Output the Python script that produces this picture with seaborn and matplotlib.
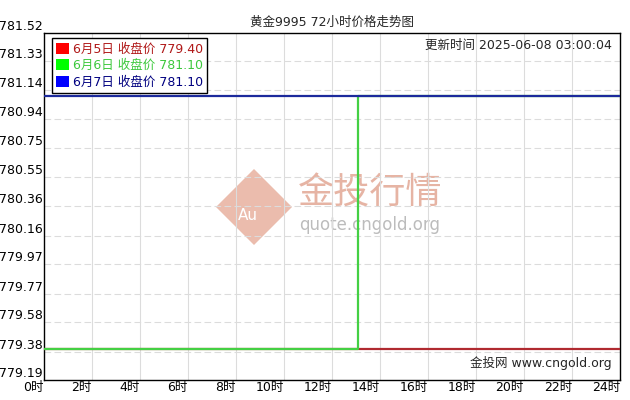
import matplotlib
matplotlib.use("Agg")
import matplotlib.pyplot as plt
from matplotlib.patches import Patch, RegularPolygon
import seaborn as sns
import pandas as pd

# 三天的价格走势 (小时, 价格)
hours_0605 = [0, 24]
price_0605 = [779.40, 779.40]
hours_0606 = [0, 13.1, 13.1, 24]
price_0606 = [779.40, 779.40, 781.10, 781.10]
hours_0607 = [0, 24]
price_0607 = [781.10, 781.10]

series_names = ["6月5日 收盘价 779.40", "6月6日 收盘价 781.10", "6月7日 收盘价 781.10"]
line_colors = ["#b02a30", "#44d044", "#1c2a9c"]
swatch_colors = ["#ff0000", "#00ff00", "#0000ff"]
text_colors = ["#b01818", "#3cc83c", "#000080"]

y_ticks = [779.19, 779.38, 779.58, 779.77, 779.97, 780.16, 780.36,
           780.55, 780.75, 780.94, 781.14, 781.33, 781.52]
x_ticks = list(range(0, 25, 2))
x_labels = [f"{h}时" for h in x_ticks]

sns.set_theme(style="white")
plt.rcParams['font.family'] = ['DejaVu Sans', 'Noto Sans CJK SC']

fig, ax = plt.subplots(figsize=(6.3, 4.0), dpi=100)
fig.subplots_adjust(left=44/630, right=620/630, top=1-33/400, bottom=1-380/400)

# 水印
logo = RegularPolygon((2.54, 1.93), numVertices=4, radius=0.38, orientation=0,
                      transform=fig.dpi_scale_trans, facecolor="#ebbcad",
                      edgecolor="none", zorder=0.5)
ax.add_patch(logo)
ax.text(2.48, 1.85, "Au", transform=fig.dpi_scale_trans, color="white",
        fontsize=11, ha="center", va="center", zorder=0.6)
ax.text(0.566, 0.536, "金投行情", transform=ax.transAxes, color="#e6b4a4",
        fontsize=26, ha="center", va="center", family=['Noto Sans CJK SC'], zorder=0.6)
ax.text(0.566, 0.447, "quote.cngold.org", transform=ax.transAxes, color="#bcbcbc",
        fontsize=12, ha="center", va="center", zorder=0.6)

df = pd.concat([
    pd.DataFrame({"hour": hours_0605, "price": price_0605, "day": series_names[0]}),
    pd.DataFrame({"hour": hours_0606, "price": price_0606, "day": series_names[1]}),
    pd.DataFrame({"hour": hours_0607, "price": price_0607, "day": series_names[2]}),
])
for name, color in zip(series_names, line_colors):
    sub = df[df["day"] == name]
    sns.lineplot(x=sub["hour"], y=sub["price"], ax=ax, color=color,
                 linewidth=1.6, estimator=None, sort=False, zorder=3)

ax.set_xlim(0, 24)
ax.set_ylim(y_ticks[0], y_ticks[-1])
ax.set_xticks(x_ticks)
ax.set_xticklabels(x_labels, fontsize=9, ha="right")
ax.set_yticks(y_ticks)
ax.set_yticklabels([f"{v:.2f}" for v in y_ticks], fontsize=9, va="bottom")
ax.tick_params(axis="both", length=0, pad=1, colors="black")
ax.set_xlabel("")
ax.set_ylabel("")

ax.grid(False)
for x in x_ticks[1:-1]:
    ax.axvline(x, color="#dcdcdc", linewidth=0.8, zorder=1)
for y in y_ticks[1:-1]:
    ax.axhline(y, color="#dcdcdc", linewidth=0.8, linestyle=(0, (6, 3)), zorder=1)

for s in ax.spines.values():
    s.set_color("black")
    s.set_linewidth(1.0)
    s.set_visible(True)

ax.set_title("黄金9995 72小时价格走势图", fontsize=9, pad=5)

handles = [Patch(facecolor=c, edgecolor="none") for c in swatch_colors]
leg = ax.legend(handles, series_names, loc="upper left",
                bbox_to_anchor=(8/576, 1-5/347), borderaxespad=0,
                fontsize=9, frameon=True, fancybox=False, framealpha=1,
                edgecolor="black", handlelength=1.0, handleheight=1.0,
                handletextpad=0.3, labelspacing=0.3, borderpad=0.35)
leg.get_frame().set_linewidth(1.0)
for t, c in zip(leg.get_texts(), text_colors):
    t.set_color(c)
leg.set_zorder(5)

ax.text(0.986, 0.963, "更新时间 2025-06-08 03:00:04", transform=ax.transAxes,
        fontsize=9, ha="right", va="center", zorder=5)
ax.text(0.986, 0.049, "金投网 www.cngold.org", transform=ax.transAxes,
        fontsize=9, ha="right", va="center", zorder=5)

plt.savefig("out.png", dpi=100)
